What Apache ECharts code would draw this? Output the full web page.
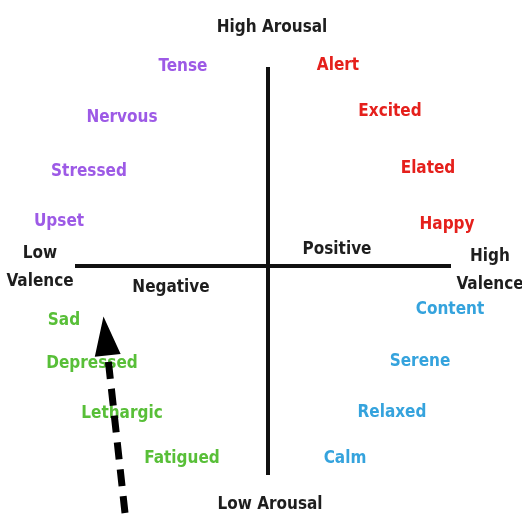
<!DOCTYPE html>
<html>
<head>
<meta charset="utf-8">
<script src="https://cdn.jsdelivr.net/npm/echarts@6/dist/echarts.min.js"></script>
<style>
  html, body { margin: 0; padding: 0; background: #fff; }
  #chart { width: 522px; height: 519px; }
</style>
</head>
<body>
<div id="chart"></div>
<script>
// valence (x) / arousal (y) positions of each word
var purpleWords = ['Tense', 'Nervous', 'Stressed', 'Upset'];
var purplePos = [[-4.25, 10.0], [-7.3, 7.45], [-8.95, 4.75], [-10.45, 2.25]];
var redWords = ['Alert', 'Excited', 'Elated', 'Happy'];
var redPos = [[3.5, 10.05], [6.1, 7.75], [8.0, 4.9], [8.95, 2.1]];
var greenWords = ['Sad', 'Depressed', 'Lethargic', 'Fatigued'];
var greenPos = [[-10.2, -2.7], [-8.8, -4.85], [-7.3, -7.35], [-4.3, -9.6]];
var blueWords = ['Content', 'Serene', 'Relaxed', 'Calm'];
var bluePos = [[9.1, -2.15], [7.6, -4.75], [6.2, -7.3], [3.85, -9.6]];
var axisWords = ['High Arousal', 'Low Arousal', 'Low\nValence', 'High\nValence', 'Negative', 'Positive'];
var axisWordPos = [[0.2, 11.95], [0.1, -11.9], [-11.4, -0.05], [11.1, -0.2], [-4.85, -1.05], [3.45, 0.85]];
var valenceLine = [[-9.65, 0], [9.15, 0]];
var arousalLine = [[0, 9.95], [0, -10.45]];
var arrowLine = [[-7.15, -12.35], [-8.12, -3.5]];

var font = '"Liberation Sans Narrow", "DejaVu Sans Condensed", sans-serif';
// narrow triangle head, padded so it keeps its shape in a square box
var arrowHead = 'path://M19.5,0L32.5,39L6.5,39Z M0,0L0,0.01 M39,39L39,39.01';

function wordSeries(words, pos, color) {
    return {
        type: 'scatter',
        symbolSize: 0,
        silent: true,
        itemStyle: { opacity: 1 },
        data: words.map(function (w, i) { return { name: w, value: pos[i] }; }),
        label: {
            show: true,
            position: 'inside',
            offset: [0, 1],
            formatter: '{b}',
            color: color,
            fontFamily: font,
            fontWeight: 'bold',
            fontSize: 17,
            lineHeight: 28
        },
        z: 5
    };
}

var chart = echarts.init(document.getElementById('chart'));
chart.setOption({
    backgroundColor: '#fff',
    animation: false,
    grid: { left: 0, right: 0, top: 0, bottom: 0 },
    xAxis: { type: 'value', min: -13.4, max: 12.7, show: false },
    yAxis: { type: 'value', min: -12.65, max: 13.3, show: false },
    series: [
        {
            type: 'line', data: valenceLine, symbol: 'none', silent: true,
            lineStyle: { color: '#111', width: 4 }
        },
        {
            type: 'line', data: arousalLine, symbol: 'none', silent: true,
            lineStyle: { color: '#111', width: 4 }
        },
        {
            type: 'lines',
            coordinateSystem: 'cartesian2d',
            silent: true,
            symbol: ['none', arrowHead],
            symbolSize: 39,
            lineStyle: { color: '#000', width: 7, type: [17, 10], opacity: 1 },
            data: [{ coords: arrowLine }],
            z: 6
        },
        wordSeries(purpleWords, purplePos, '#9d5ae6'),
        wordSeries(redWords, redPos, '#e5201c'),
        wordSeries(greenWords, greenPos, '#58bf38'),
        wordSeries(blueWords, bluePos, '#35a3dd'),
        wordSeries(axisWords, axisWordPos, '#1e1e1e')
    ]
});
</script>
</body>
</html>
